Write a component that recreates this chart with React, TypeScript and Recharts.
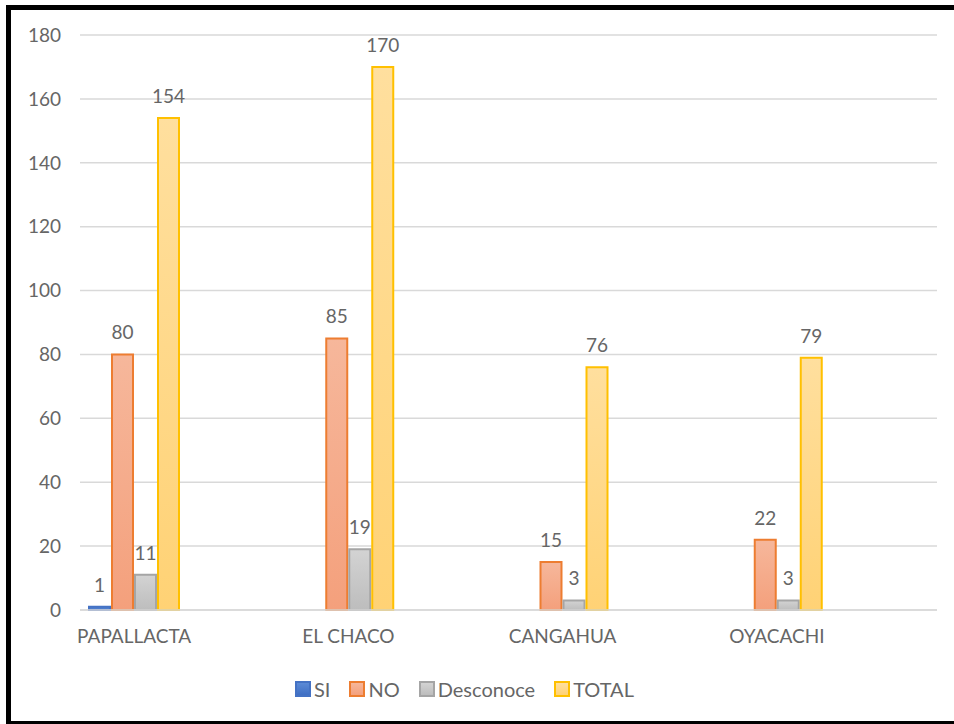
import React from 'react';
import { BarChart, Bar, XAxis, YAxis, CartesianGrid, LabelList } from 'recharts';

// categories and values
const categories = ['PAPALLACTA', 'EL CHACO', 'CANGAHUA', 'OYACACHI'];
const siValues = [1, null, null, null];
const noValues = [80, 85, 15, 22];
const desconoceValues = [11, 19, 3, 3];
const totalValues = [154, 170, 76, 79];
const yTicks = [0, 20, 40, 60, 80, 100, 120, 140, 160, 180];

const series = [
  { key: 'si', name: 'SI', stroke: '#4472C4', top: '#5b8ad6', bottom: '#3f6fc4' },
  { key: 'no', name: 'NO', stroke: '#ED7D31', top: '#f6b79b', bottom: '#f4a07c' },
  { key: 'desconoce', name: 'Desconoce', stroke: '#A5A5A5', top: '#d3d3d3', bottom: '#bdbdbd' },
  { key: 'total', name: 'TOTAL', stroke: '#FFC000', top: '#ffdf9e', bottom: '#ffd275' },
];

const data = categories.map((name, i) => ({
  name,
  si: siValues[i],
  no: noValues[i],
  desconoce: desconoceValues[i],
  total: totalValues[i],
}));

const FONT = 'Lato, "Open Sans", sans-serif';
const GREY = '#666666';

// legend drawn by hand so it does not eat into the plot area
function ChartLegend() {
  return (
    <div
      style={{
        position: 'absolute',
        left: 295,
        top: 677,
        display: 'flex',
        alignItems: 'center',
        fontFamily: FONT,
        fontSize: 20,
        color: GREY,
      }}
    >
      {series.map((s) => (
        <div key={s.key} style={{ display: 'flex', alignItems: 'center', marginRight: 19 }}>
          <span
            style={{
              display: 'inline-block',
              width: 12,
              height: 12,
              border: `2px solid ${s.stroke}`,
              background: `linear-gradient(${s.top}, ${s.bottom})`,
              marginRight: 3,
            }}
          />
          <span>{s.name}</span>
        </div>
      ))}
    </div>
  );
}

export default function App() {
  return (
    <div style={{ position: 'fixed', left: 0, top: 0, width: 954, height: 724, background: '#fff', overflow: 'hidden' }}>
      {/* black frame, right side runs off the picture */}
      <div
        style={{
          position: 'absolute',
          left: 6,
          top: 5,
          width: 960,
          height: 721,
          border: '5px solid #000',
          boxSizing: 'border-box',
        }}
      />
      <div style={{ position: 'absolute', left: 0, top: 0 }}>
        <BarChart
          width={954}
          height={724}
          data={data}
          margin={{ top: 35, right: 17, bottom: 84, left: 0 }}
          barSize={21}
          barGap={2}
        >
          <defs>
            {series.map((s) => (
              <linearGradient key={s.key} id={`grad-${s.key}`} x1="0" y1="0" x2="0" y2="1">
                <stop offset="0%" stopColor={s.top} />
                <stop offset="100%" stopColor={s.bottom} />
              </linearGradient>
            ))}
          </defs>
          <CartesianGrid vertical={false} stroke="#d9d9d9" strokeWidth={1.5} />
          <XAxis
            dataKey="name"
            height={30}
            padding={{ left: -53, right: 53 }}
            axisLine={{ stroke: '#d9d9d9', strokeWidth: 1.5 }}
            tickLine={false}
            tickSize={0}
            tickMargin={20}
            tick={{ fill: GREY, fontSize: 19, fontFamily: FONT }}
          />
          <YAxis
            width={80}
            domain={[0, 180]}
            ticks={yTicks}
            axisLine={false}
            tickLine={false}
            tickSize={0}
            tickMargin={19}
            tick={{ fill: GREY, fontSize: 19, fontFamily: FONT }}
          />
          {series.map((s) => (
            <Bar
              key={s.key}
              dataKey={s.key}
              name={s.name}
              fill={`url(#grad-${s.key})`}
              stroke={s.stroke}
              strokeWidth={2}
              isAnimationActive={false}
            >
              <LabelList
                dataKey={s.key}
                position="top"
                offset={15}
                fill={GREY}
                fontSize={19}
                fontFamily={FONT}
              />
            </Bar>
          ))}
        </BarChart>
      </div>
      <ChartLegend />
    </div>
  );
}
